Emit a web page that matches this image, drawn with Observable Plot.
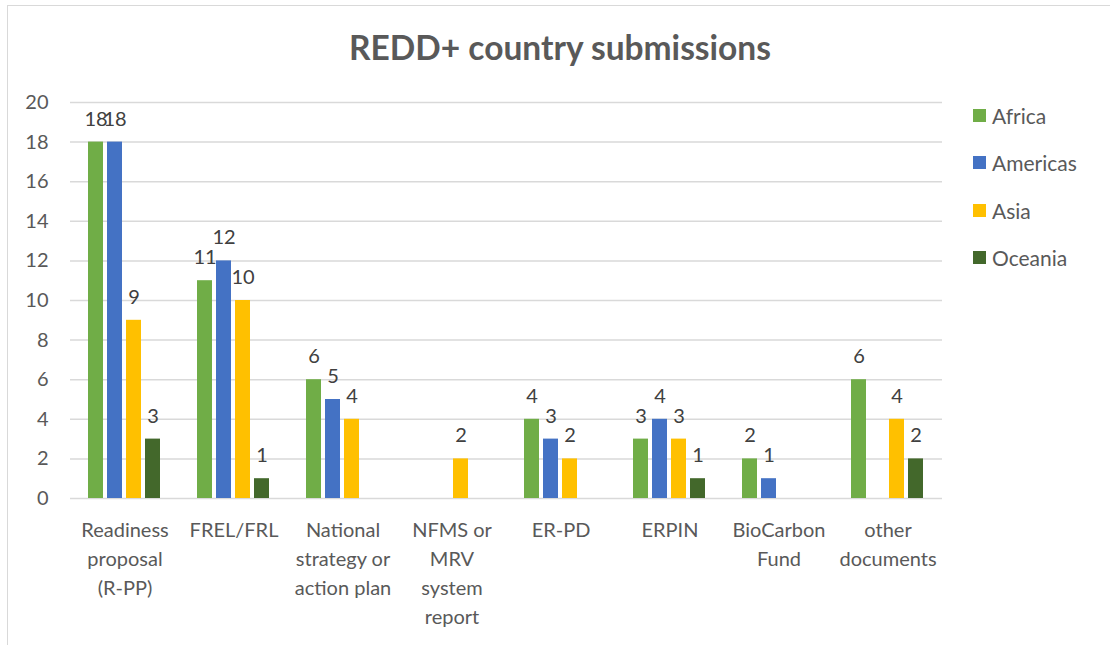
<!DOCTYPE html>
<html>
<head>
<meta charset="utf-8">
<script src="https://cdn.jsdelivr.net/npm/d3@7"></script>
<script src="https://cdn.jsdelivr.net/npm/@observablehq/plot@0.6"></script>
<style>
  html, body { margin: 0; padding: 0; background: #fff; }
  #root { position: relative; width: 1110px; height: 645px; overflow: hidden; font-family: Lato, "Open Sans", sans-serif; }
  #frame { position: absolute; left: 7px; top: 5px; width: 1200px; height: 800px; border: 1px solid #d9d9d9; box-sizing: border-box; }
  #title { position: absolute; left: 0; top: 27px; width: 1120px; text-align: center; font-size: 33.5px; line-height: 40px; font-weight: bold; color: #595959; }
  #chart { position: absolute; left: 0; top: 90px; }
  .item { position: absolute; left: 973px; height: 24px; display: flex; align-items: center; font-size: 21px; color: #595959; }
  .sw { width: 13px; height: 13px; margin-right: 6px; }
</style>
</head>
<body>
<div id="root">
  <div id="frame"></div>
  <div id="title"></div>
  <div id="chart"></div>
  <div id="legend"></div>
</div>
<script>
const titleText = "REDD+ country submissions";
const categories = ["Readiness proposal (R-PP)", "FREL/FRL", "National strategy or action plan", "NFMS or MRV system report", "ER-PD", "ERPIN", "BioCarbon Fund", "other documents"];
const tickLabels = ["Readiness\nproposal\n(R-PP)", "FREL/FRL", "National\nstrategy or\naction plan", "NFMS or\nMRV\nsystem\nreport", "ER-PD", "ERPIN", "BioCarbon\nFund", "other\ndocuments"];
const regions = ["Africa", "Americas", "Asia", "Oceania"];
const colors = ["#70AD47", "#4472C4", "#FFC000", "#43682B"];
const africa   = [18, 11, 6, null, 4, 3, 2, 6];
const americas = [18, 12, 5, null, 3, 4, 1, null];
const asia     = [9, 10, 4, 2, 2, 3, null, 4];
const oceania  = [3, 1, null, null, null, 1, null, 2];
const yTicks = [0, 2, 4, 6, 8, 10, 12, 14, 16, 18, 20];

const series = [africa, americas, asia, oceania];
const data = categories.flatMap((c, i) => regions.map((r, j) => ({category: c, region: r, value: series[j][i]})))
  .filter(d => d.value != null);

document.getElementById("title").textContent = titleText;

const chart = Plot.plot({
  width: 1110,
  height: 555,
  marginTop: 12,
  marginBottom: 147,
  marginLeft: 70,
  marginRight: 168,
  style: {fontFamily: "Lato, 'Open Sans', sans-serif", fontSize: "20px", color: "#595959", background: "transparent"},
  fx: {domain: categories, paddingInner: 0.312, paddingOuter: 0.156, axis: null},
  x: {domain: regions, paddingInner: 0.2, paddingOuter: 0, axis: null},
  y: {domain: [0, 20], axis: null},
  color: {domain: regions, range: colors},
  marks: [
    Plot.ruleY(yTicks, {y: d => d, stroke: "#d9d9d9", strokeWidth: 1.5, strokeOpacity: 1, insetLeft: -17, insetRight: -17}),
    Plot.axisY(yTicks, {tickSize: 0, tickPadding: 39, fontSize: 20, fill: "#595959", label: null}),
    Plot.barY(data, {fx: "category", x: "region", y: "value", fill: "region"}),
    Plot.text(data, {fx: "category", x: "region", y: "value", text: d => String(d.value), dy: -23, fill: "#404040", fontSize: 20}),
    Plot.axisFx({anchor: "bottom", tickSize: 0, tickPadding: 18, tickFormat: d => tickLabels[categories.indexOf(d)], fontSize: 20, lineHeight: 1.45, fill: "#595959", label: null})
  ]
});
document.getElementById("chart").appendChild(chart);

const legend = document.getElementById("legend");
regions.forEach((r, i) => {
  const item = document.createElement("div");
  item.className = "item";
  item.style.top = (103 + 47.5 * i) + "px";
  const sw = document.createElement("div");
  sw.className = "sw";
  sw.style.background = colors[i];
  const lab = document.createElement("span");
  lab.textContent = r;
  item.appendChild(sw);
  item.appendChild(lab);
  legend.appendChild(item);
});
</script>
</body>
</html>
